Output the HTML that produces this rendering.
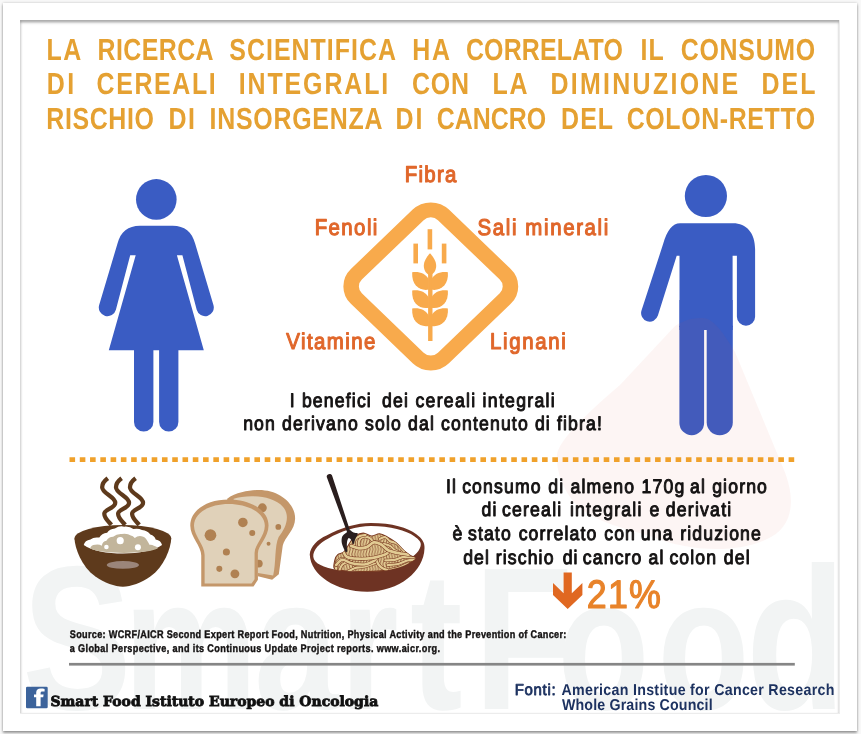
<!DOCTYPE html>
<html lang="it">
<head>
<meta charset="utf-8">
<title>Cereali integrali e cancro del colon-retto</title>
<style>
html,body{margin:0;padding:0;}
body{width:861px;height:734px;overflow:hidden;background:#f8f8f8;position:relative;font-family:"Liberation Sans",sans-serif;}
#panel{position:absolute;left:3px;top:3px;width:854px;height:727.5px;background:#fff;box-shadow:0 1.5px 2.5px rgba(0,0,0,.36),0 0 2.5px rgba(0,0,0,.2);}
#frame{position:absolute;left:20px;top:19.5px;width:820.3px;height:694.2px;background:#fff;box-shadow:inset 0 2.5px 2.5px rgba(0,0,0,.33),inset 2px 0 2px rgba(0,0,0,.055);border-right:1px solid #ececec;border-bottom:1px solid #ececec;box-sizing:border-box;}
svg{position:absolute;left:0;top:0;}
</style>
</head>
<body>
<div id="panel"></div>
<div id="frame"></div>
<svg text-rendering="geometricPrecision" width="861" height="734" viewBox="0 0 861 734">
<defs>
<clipPath id="fc"><rect x="21.5" y="22" width="818" height="691"/></clipPath>
</defs>
<!-- watermark -->
<g clip-path="url(#fc)">
<text transform="translate(0,709) scale(0.8,1)" font-family='"Liberation Sans", sans-serif' font-weight="bold" fill="#f2f4f4"><tspan x="27.8" font-size="205">S</tspan><tspan x="154.6" font-size="188">m</tspan><tspan x="317.8" font-size="188">a</tspan><tspan x="424.9" font-size="188">r</tspan><tspan x="512.5" font-size="197">t</tspan><tspan x="592.5" font-size="203">F</tspan><tspan x="697.0" font-size="188">o</tspan><tspan x="822.0" font-size="188">o</tspan><tspan x="932.8" font-size="203">d</tspan></text>
</g>

<!-- woman -->
<g fill="#3A5CC3" stroke="none">
<circle cx="156.3" cy="199.4" r="20.3"/>
<path d="M139.9,225.8 L172.7,225.8 C184.5,225.8 192,232 195.1,243.5 L213.5,305.2 A8.7,8.7 0 0 1 196.7,309.8 L182.4,255.2 L176.9,255.2 L203.8,350.3 L108.8,350.3 L135.7,255.2 L130.2,255.2 L115.9,309.8 A8.7,8.7 0 0 1 99.1,305.2 L117.5,243.5 C120.6,232 128.1,225.8 139.9,225.8 Z"/>
<path d="M134,345 L153.4,345 L153.4,421.9 A9.7,9.7 0 0 1 134,421.9 Z"/>
<path d="M159.1,345 L178.4,345 L178.4,421.9 A9.65,9.65 0 0 1 159.1,421.9 Z"/>
</g>

<!-- man -->
<g fill="#3A5CC3" stroke="none">
<circle cx="705.9" cy="196" r="21.1"/>
<path d="M680.1,223.3 L733,223.3 C746.5,223.3 755.1,233 755.1,249.2 L755.1,316.7 A9.1,9.1 0 0 1 736.9,316.7 L736.9,255.7 L732.6,255.7 L732.6,330 L679.5,330 L679.5,255.7 L676.7,255.7 L657.9,315.6 A8.6,8.6 0 0 1 641.5,310.4 L663.1,244.1 C667,230.5 672.5,223.3 680.1,223.3 Z"/>
<path d="M679.4,325.8 L704.1,325.8 L704.1,422.9 A12.35,12.35 0 0 1 679.4,422.9 Z"/>
<path d="M706.7,325.8 L732.8,325.8 L732.8,422.2 A13.05,13.05 0 0 1 706.7,422.2 Z"/>
<rect x="679.5" y="300" width="53.1" height="27"/>
</g>
<path d="M703,318 C712,318 722,330 735,352 L784,470 C796,500 794,528 765,540 C735,553 690,552 650,536 C620,527 585,520 570,497 C562,485 556,470 557,455 C559,440 585,415 620,385 L675,326 C688,318 695,318 703,318 Z" fill="rgb(225,80,60)" fill-opacity="0.06"/>

<!-- diamond + wheat -->
<g fill="#F8AA4C">
<rect x="-60.3" y="-60.3" width="120.6" height="120.6" rx="17.5" ry="17.5" transform="translate(430.8,286.4) scale(1.021,0.981) rotate(45)" fill="none" stroke="#F8AA4C" stroke-width="15.2"/>
<rect x="427.6" y="229.2" width="4.6" height="20.2"/>
<rect x="413.4" y="243.6" width="4.6" height="19.8"/>
<rect x="441.8" y="243.6" width="4.6" height="19.8"/>
<rect x="428.1" y="270" width="4.4" height="71"/>
<path d="M430,253.3 C433,256.5 436.2,261 436.2,265.8 C436.2,270.5 433.5,274.5 430,275.2 C426.5,274.5 423.8,270.5 423.8,265.8 C423.8,261 427,256.5 430,253.3 Z"/>
<g id="lp">
<path d="M412.2,272.3 C419,271.3 426,273.5 428.8,279.8 L428.8,289.6 C420,291.3 411.3,285.5 412.2,272.3 Z"/>
<path d="M447.9,272.3 C441.1,271.3 434.1,273.5 431.3,279.8 L431.3,289.6 C440.1,291.3 448.8,285.5 447.9,272.3 Z"/>
</g>
<use href="#lp" y="18.15"/>
<use href="#lp" y="36.3"/>
</g>

<!-- dotted rule -->
<line x1="69.5" y1="459.7" x2="794.4" y2="459.7" stroke="#F0A12B" stroke-width="4.8" stroke-dasharray="5.6 4.673"/>

<!-- rice bowl -->
<g transform="translate(60,465) scale(0.17711)">
<g fill="none" stroke="#5E3A1C" stroke-width="24">
<path id="stm" d="M270,75 C250,90 238,105 238,125 C238,160 312,178 312,213 C312,245 250,250 250,275 C250,300 275,320 290,338"/>
<use href="#stm" x="78"/>
<use href="#stm" x="157"/>
</g>
<ellipse cx="355" cy="415" rx="273" ry="76" fill="#5E3A1C"/>
<path d="M82,415 C84,470 120,572 200,630 C250,666 310,687 355,687 C400,687 460,666 510,630 C590,572 626,470 628,415 Z" fill="#5E3A1C"/>
<path d="M134,451 Q140,425 172,420 Q190,405 222,410 Q235,385 266,382 Q280,360 310,358 Q335,342 362,348 Q395,345 414,362 Q440,355 463,367 Q495,372 510,392 Q535,400 540,420 Q570,425 576,452 C490,516 220,516 134,451 Z" fill="#fff"/>
<path d="M170,472 Q175,450 198,450 Q220,445 236,456 Q240,430 262,428 Q275,405 300,405 Q320,388 348,390 Q380,385 400,398 Q412,400 422,412 Q440,398 460,402 Q482,405 490,424 Q500,440 505,450 Q520,448 530,456 Q548,460 552,472 C480,505 240,505 170,472 Z" fill="#C2B59B"/>
<circle cx="340" cy="427" r="20" fill="#fff"/>
<circle cx="262" cy="463" r="13" fill="#fff"/>
<circle cx="440" cy="465" r="17" fill="#fff"/>
<ellipse cx="355" cy="564" rx="91" ry="22" fill="#9B857A"/>
</g>

<!-- bread -->
<g transform="translate(180,475) scale(0.17711)">
<path d="M265,135 C320,95 400,85 445,85 C560,85 650,160 650,245 C650,310 590,350 580,400 L558,560 L520,592 L440,572 L440,420 Z" fill="#C4976A"/>
<path d="M300,135 C380,110 520,112 582,180 C625,232 597,300 557,350 C533,400 543,500 526,568 L440,553 L440,300 Z" fill="#E0D1B9"/>
<circle cx="465" cy="185" r="25" fill="#B08152"/>
<circle cx="555" cy="293" r="16" fill="#B08152"/>
<circle cx="500" cy="388" r="11" fill="#B08152"/>
<circle cx="445" cy="500" r="22" fill="#B08152"/>
<path d="M120,630 L120,455 C120,400 58,350 58,285 C58,200 150,138 275,138 C400,138 500,200 500,285 C500,350 440,400 440,440 L440,592 L415,630 Z" fill="#C4976A"/>
<path d="M139,613 L139,452 C139,395 79,345 79,287 C79,215 165,164 275,164 C385,164 479,215 479,287 C479,345 421,395 421,440 L421,588 L404,613 Z" fill="#E0D1B9"/>
<circle cx="172" cy="340" r="33" fill="#B08152"/>
<circle cx="355" cy="268" r="27" fill="#B08152"/>
<circle cx="408" cy="327" r="17" fill="#B08152"/>
<circle cx="262" cy="435" r="20" fill="#B08152"/>
<circle cx="222" cy="530" r="17" fill="#B08152"/>
<circle cx="310" cy="558" r="25" fill="#B08152"/>
</g>

<!-- pasta bowl -->
<g transform="translate(300,465) scale(0.17711)">
<path d="M55,505 C58,460 100,420 150,398 C230,355 320,328 400,328 C520,328 610,355 655,390 C690,415 705,440 703,470 C700,600 560,715 380,715 C200,715 60,620 55,505 Z" fill="#6E3323"/>
<path d="M75,518 C72,480 110,440 160,415 C230,375 320,345 400,345 C510,345 600,370 645,402 C672,420 684,436 682,450 C680,480 650,515 600,540 C540,572 460,598 400,600 C320,604 250,600 200,590 C140,578 78,560 75,518 Z" fill="#fff"/>
<defs><path id="pmd" d="M193.7,584.7 C186.6,574.6 193.7,548.6 196.9,535.5 C200.2,522.4 204.6,513.7 213.3,506.0 C222.1,498.4 237.9,501.1 249.4,489.6 C260.9,478.1 271.8,451.9 282.2,437.2 C292.6,422.4 299.1,409.8 311.7,401.1 C324.2,392.3 342.3,384.7 357.6,384.7 C372.9,384.7 388.2,400.5 403.5,401.1 C418.8,401.6 434.1,386.9 449.4,388.0 C464.7,389.1 480.0,399.5 495.3,407.6 C510.6,415.8 525.9,424.6 541.2,437.2 C556.5,449.7 572.9,470.5 587.1,483.1 C601.3,495.6 615.7,505.1 626.4,512.6 C637.1,520.0 655.7,519.4 651.3,527.6 C647.0,535.8 619.6,552.2 600.2,561.7 C580.7,571.2 558.7,578.7 534.6,584.7 C510.6,590.7 488.7,595.1 455.9,597.8 C423.2,600.5 374.0,601.4 337.9,601.1 C301.8,600.8 263.6,598.6 239.6,595.8 C215.5,593.1 200.8,594.7 193.7,584.7 Z"/><clipPath id="pm"><use href="#pmd"/></clipPath></defs>
<use href="#pmd" fill="#E2CB93" stroke="#7A3B22" stroke-width="6" stroke-linejoin="round"/>
<g clip-path="url(#pm)">
<pattern id="ht" width="16" height="56" patternUnits="userSpaceOnUse"><path d="M4,0 L12,28 L4,56" stroke="#7A3B22" stroke-width="4.2" fill="none"/></pattern>
<use href="#pmd" fill="url(#ht)"/>
<path d="M203.5,601.1 C204.0,593.4 201.9,567.2 206.8,555.2 C211.7,543.2 222.1,532.2 233.0,529.0 C243.9,525.7 265.8,534.4 272.3,535.5" stroke="#7A3B22" stroke-width="18" fill="none" stroke-linecap="round"/>
<path d="M203.5,601.1 C204.0,593.4 201.9,567.2 206.8,555.2 C211.7,543.2 222.1,532.2 233.0,529.0 C243.9,525.7 265.8,534.4 272.3,535.5" stroke="#E2CB93" stroke-width="12" fill="none" stroke-linecap="round"/>
<path d="M219.9,601.1 C223.2,594.5 229.7,570.5 239.6,561.7 C249.4,553.0 266.9,548.1 278.9,548.6 C290.9,549.2 306.2,562.3 311.7,565.0" stroke="#7A3B22" stroke-width="18" fill="none" stroke-linecap="round"/>
<path d="M219.9,601.1 C223.2,594.5 229.7,570.5 239.6,561.7 C249.4,553.0 266.9,548.1 278.9,548.6 C290.9,549.2 306.2,562.3 311.7,565.0" stroke="#E2CB93" stroke-width="12" fill="none" stroke-linecap="round"/>
<path d="M272.3,601.1 C278.9,597.8 296.4,585.8 311.7,581.4 C327.0,577.0 345.6,579.2 364.1,574.9 C382.7,570.5 413.3,558.5 423.2,555.2" stroke="#7A3B22" stroke-width="18" fill="none" stroke-linecap="round"/>
<path d="M272.3,601.1 C278.9,597.8 296.4,585.8 311.7,581.4 C327.0,577.0 345.6,579.2 364.1,574.9 C382.7,570.5 413.3,558.5 423.2,555.2" stroke="#E2CB93" stroke-width="12" fill="none" stroke-linecap="round"/>
<path d="M429.7,529.0 C431.9,534.4 436.3,552.4 442.8,561.7 C449.4,571.0 458.1,578.7 469.0,584.7 C480.0,590.7 501.8,595.6 508.4,597.8" stroke="#7A3B22" stroke-width="19" fill="none" stroke-linecap="round"/>
<path d="M429.7,529.0 C431.9,534.4 436.3,552.4 442.8,561.7 C449.4,571.0 458.1,578.7 469.0,584.7 C480.0,590.7 501.8,595.6 508.4,597.8" stroke="#E2CB93" stroke-width="13" fill="none" stroke-linecap="round"/>
<path d="M482.2,538.8 C490.9,538.2 517.1,538.8 534.6,535.5 C552.1,532.2 568.0,520.2 587.1,519.1 C606.2,518.0 639.0,527.3 649.4,529.0" stroke="#7A3B22" stroke-width="19" fill="none" stroke-linecap="round"/>
<path d="M482.2,538.8 C490.9,538.2 517.1,538.8 534.6,535.5 C552.1,532.2 568.0,520.2 587.1,519.1 C606.2,518.0 639.0,527.3 649.4,529.0" stroke="#E2CB93" stroke-width="13" fill="none" stroke-linecap="round"/>
<path d="M495.3,565.0 C505.1,563.9 535.7,562.8 554.3,558.5 C572.9,554.1 591.4,542.6 606.7,538.8 C622.0,535.0 639.5,536.1 646.1,535.5" stroke="#7A3B22" stroke-width="18" fill="none" stroke-linecap="round"/>
<path d="M495.3,565.0 C505.1,563.9 535.7,562.8 554.3,558.5 C572.9,554.1 591.4,542.6 606.7,538.8 C622.0,535.0 639.5,536.1 646.1,535.5" stroke="#E2CB93" stroke-width="12" fill="none" stroke-linecap="round"/>
<path d="M508.4,591.2 C517.1,589.1 543.4,584.1 560.8,578.1 C578.3,572.1 604.6,559.0 613.3,555.2" stroke="#7A3B22" stroke-width="17" fill="none" stroke-linecap="round"/>
<path d="M508.4,591.2 C517.1,589.1 543.4,584.1 560.8,578.1 C578.3,572.1 604.6,559.0 613.3,555.2" stroke="#E2CB93" stroke-width="11" fill="none" stroke-linecap="round"/>
<path d="M449.4,417.5 C454.8,415.8 472.3,405.5 482.2,407.6 C492.0,409.8 497.5,424.6 508.4,430.6 C519.3,436.6 534.6,434.4 547.7,443.7 C560.8,453.0 580.5,479.2 587.1,486.3" stroke="#7A3B22" stroke-width="18" fill="none" stroke-linecap="round"/>
<path d="M449.4,417.5 C454.8,415.8 472.3,405.5 482.2,407.6 C492.0,409.8 497.5,424.6 508.4,430.6 C519.3,436.6 534.6,434.4 547.7,443.7 C560.8,453.0 580.5,479.2 587.1,486.3" stroke="#E2CB93" stroke-width="12" fill="none" stroke-linecap="round"/>
<path d="M469.0,443.7 C475.6,445.9 497.5,450.8 508.4,456.8 C519.3,462.8 525.9,473.8 534.6,479.8 C543.4,485.8 556.5,490.7 560.8,492.9" stroke="#7A3B22" stroke-width="17" fill="none" stroke-linecap="round"/>
<path d="M469.0,443.7 C475.6,445.9 497.5,450.8 508.4,456.8 C519.3,462.8 525.9,473.8 534.6,479.8 C543.4,485.8 556.5,490.7 560.8,492.9" stroke="#E2CB93" stroke-width="11" fill="none" stroke-linecap="round"/>
<path d="M337.9,469.9 C336.8,464.5 329.2,447.5 331.4,437.2 C333.5,426.8 341.2,412.0 351.0,407.6 C360.9,403.3 379.4,406.0 390.4,410.9 C401.3,415.8 412.2,432.8 416.6,437.2" stroke="#7A3B22" stroke-width="18" fill="none" stroke-linecap="round"/>
<path d="M337.9,469.9 C336.8,464.5 329.2,447.5 331.4,437.2 C333.5,426.8 341.2,412.0 351.0,407.6 C360.9,403.3 379.4,406.0 390.4,410.9 C401.3,415.8 412.2,432.8 416.6,437.2" stroke="#E2CB93" stroke-width="12" fill="none" stroke-linecap="round"/>
<path d="M305.1,463.4 C305.7,456.8 302.9,434.4 308.4,424.0 C313.9,413.7 327.5,406.0 337.9,401.1 C348.3,396.2 365.2,395.6 370.7,394.5" stroke="#7A3B22" stroke-width="18" fill="none" stroke-linecap="round"/>
<path d="M305.1,463.4 C305.7,456.8 302.9,434.4 308.4,424.0 C313.9,413.7 327.5,406.0 337.9,401.1 C348.3,396.2 365.2,395.6 370.7,394.5" stroke="#E2CB93" stroke-width="12" fill="none" stroke-linecap="round"/>
<path d="M203.5,565.0 C209.5,560.1 224.8,537.1 239.6,535.5 C254.3,533.9 271.2,550.8 292.0,555.2 C312.8,559.6 343.4,563.9 364.1,561.7 C384.9,559.6 404.6,548.6 416.6,542.1 C428.6,535.5 433.0,525.7 436.3,522.4" stroke="#7A3B22" stroke-width="20" fill="none" stroke-linecap="round"/>
<path d="M203.5,565.0 C209.5,560.1 224.8,537.1 239.6,535.5 C254.3,533.9 271.2,550.8 292.0,555.2 C312.8,559.6 343.4,563.9 364.1,561.7 C384.9,559.6 404.6,548.6 416.6,542.1 C428.6,535.5 433.0,525.7 436.3,522.4" stroke="#E2CB93" stroke-width="14" fill="none" stroke-linecap="round"/>
<path d="M246.1,492.9 C249.4,497.3 252.7,513.1 265.8,519.1 C278.9,525.1 301.8,527.9 324.8,529.0 C347.7,530.0 379.4,529.0 403.5,525.7 C427.5,522.4 453.8,514.2 469.0,509.3 C484.3,504.4 490.9,498.4 495.3,496.2" stroke="#7A3B22" stroke-width="21" fill="none" stroke-linecap="round"/>
<path d="M246.1,492.9 C249.4,497.3 252.7,513.1 265.8,519.1 C278.9,525.1 301.8,527.9 324.8,529.0 C347.7,530.0 379.4,529.0 403.5,525.7 C427.5,522.4 453.8,514.2 469.0,509.3 C484.3,504.4 490.9,498.4 495.3,496.2" stroke="#E2CB93" stroke-width="15" fill="none" stroke-linecap="round"/>
<path d="M288.7,456.8 C295.8,459.0 316.6,468.8 331.4,469.9 C346.1,471.0 363.0,468.8 377.3,463.4 C391.5,457.9 403.5,439.9 416.6,437.2 C429.7,434.4 442.8,439.9 455.9,447.0 C469.0,454.1 480.0,471.6 495.3,479.8 C510.6,488.0 528.1,491.8 547.7,496.2 C567.4,500.5 602.4,504.4 613.3,506.0" stroke="#7A3B22" stroke-width="22" fill="none" stroke-linecap="round"/>
<path d="M288.7,456.8 C295.8,459.0 316.6,468.8 331.4,469.9 C346.1,471.0 363.0,468.8 377.3,463.4 C391.5,457.9 403.5,439.9 416.6,437.2 C429.7,434.4 442.8,439.9 455.9,447.0 C469.0,454.1 480.0,471.6 495.3,479.8 C510.6,488.0 528.1,491.8 547.7,496.2 C567.4,500.5 602.4,504.4 613.3,506.0" stroke="#E2CB93" stroke-width="16" fill="none" stroke-linecap="round"/>
</g>
<path d="M151,68 C148,50 177,44 182,62 L283,372 L266,380 Z" fill="#2A1E1E"/>
<path d="M236,412 C240,392 262,384 272,372 L286,368 C292,380 310,384 326,384 L323,398 C312,415 306,432 306,445 L297,446 C295,430 288,415 276,412 C264,418 262,452 268,488 L258,492 C246,470 230,442 236,412 Z" fill="#2A1E1E"/>
</g>

<!-- arrow -->
<polygon points="563.6,572.4 571.8,572.4 571.8,593.2 582.4,583 582.4,595 567.7,608.9 553,595 553,583 563.6,593.2" fill="#E06821"/>

<!-- rule -->
<rect x="69" y="662.9" width="725.8" height="2.7" fill="#868686"/>

<!-- facebook -->
<rect x="26" y="686.8" width="21.7" height="21.4" rx="1.3" fill="#3C639B"/>
<path d="M36.2,706.2 L36.2,697.3 L34,697.3 L34,694.5 L36.2,694.5 L36.2,692.6 C36.2,690 38,688.6 40.6,688.6 C42,688.6 43.6,688.7 44.6,688.9 L44.6,691.6 L42.6,691.6 C41,691.6 40.6,692.1 40.6,693.2 L40.6,694.5 L43.6,694.5 L43.2,697.3 L40.6,697.3 L40.6,706.2 Z" fill="#fff"/>

<text transform="translate(46.38,59.70) scale(0.8200,1)" font-family='"Liberation Sans", sans-serif' font-weight="bold" font-size="30.4" fill="#E5A132"  letter-spacing="1.938">LA</text>
<text transform="translate(97.58,59.70) scale(0.8200,1)" font-family='"Liberation Sans", sans-serif' font-weight="bold" font-size="30.4" fill="#E5A132"  letter-spacing="0.507">RICERCA</text>
<text transform="translate(229.25,59.70) scale(0.8200,1)" font-family='"Liberation Sans", sans-serif' font-weight="bold" font-size="30.4" fill="#E5A132"  letter-spacing="1.262">SCIENTIFICA</text>
<text transform="translate(412.28,59.70) scale(0.8200,1)" font-family='"Liberation Sans", sans-serif' font-weight="bold" font-size="30.4" fill="#E5A132"  letter-spacing="2.131">HA</text>
<text transform="translate(465.90,59.70) scale(0.8200,1)" font-family='"Liberation Sans", sans-serif' font-weight="bold" font-size="30.4" fill="#E5A132"  letter-spacing="0.235">CORRELATO</text>
<text transform="translate(640.48,59.70) scale(0.8200,1)" font-family='"Liberation Sans", sans-serif' font-weight="bold" font-size="30.4" fill="#E5A132"  letter-spacing="1.320">IL</text>
<text transform="translate(680.80,59.70) scale(0.8200,1)" font-family='"Liberation Sans", sans-serif' font-weight="bold" font-size="30.4" fill="#E5A132"  letter-spacing="0.868">CONSUMO</text>
<text transform="translate(46.78,93.80) scale(0.8200,1)" font-family='"Liberation Sans", sans-serif' font-weight="bold" font-size="30.4" fill="#E5A132"  letter-spacing="2.972">DI</text>
<text transform="translate(96.50,93.80) scale(0.8200,1)" font-family='"Liberation Sans", sans-serif' font-weight="bold" font-size="30.4" fill="#E5A132"  letter-spacing="1.994">CEREALI</text>
<text transform="translate(238.68,93.80) scale(0.8200,1)" font-family='"Liberation Sans", sans-serif' font-weight="bold" font-size="30.4" fill="#E5A132"  letter-spacing="2.333">INTEGRALI</text>
<text transform="translate(412.00,93.80) scale(0.8200,1)" font-family='"Liberation Sans", sans-serif' font-weight="bold" font-size="30.4" fill="#E5A132"  letter-spacing="0.962">CON</text>
<text transform="translate(492.48,93.80) scale(0.8200,1)" font-family='"Liberation Sans", sans-serif' font-weight="bold" font-size="30.4" fill="#E5A132"  letter-spacing="2.304">LA</text>
<text transform="translate(550.48,93.80) scale(0.8200,1)" font-family='"Liberation Sans", sans-serif' font-weight="bold" font-size="30.4" fill="#E5A132"  letter-spacing="2.807">DIMINUZIONE</text>
<text transform="translate(761.48,93.80) scale(0.8200,1)" font-family='"Liberation Sans", sans-serif' font-weight="bold" font-size="30.4" fill="#E5A132"  letter-spacing="2.507">DEL</text>
<text transform="translate(46.28,129.00) scale(0.8200,1)" font-family='"Liberation Sans", sans-serif' font-weight="bold" font-size="30.4" fill="#E5A132"  letter-spacing="0.771">RISCHIO</text>
<text transform="translate(168.38,129.00) scale(0.8200,1)" font-family='"Liberation Sans", sans-serif' font-weight="bold" font-size="30.4" fill="#E5A132"  letter-spacing="2.119">DI</text>
<text transform="translate(209.48,129.00) scale(0.8200,1)" font-family='"Liberation Sans", sans-serif' font-weight="bold" font-size="30.4" fill="#E5A132"  letter-spacing="0.921">INSORGENZA</text>
<text transform="translate(395.58,129.00) scale(0.8200,1)" font-family='"Liberation Sans", sans-serif' font-weight="bold" font-size="30.4" fill="#E5A132"  letter-spacing="2.241">DI</text>
<text transform="translate(436.80,129.00) scale(0.8200,1)" font-family='"Liberation Sans", sans-serif' font-weight="bold" font-size="30.4" fill="#E5A132"  letter-spacing="-0.028">CANCRO</text>
<text transform="translate(561.08,129.00) scale(0.8200,1)" font-family='"Liberation Sans", sans-serif' font-weight="bold" font-size="30.4" fill="#E5A132"  letter-spacing="1.288">DEL</text>
<text transform="translate(626.70,129.00) scale(0.8200,1)" font-family='"Liberation Sans", sans-serif' font-weight="bold" font-size="30.4" fill="#E5A132"  letter-spacing="0.765">COLON-RETTO</text>
<text transform="translate(404.73,182.40) scale(0.9000,1)" font-family='"Liberation Sans", sans-serif' font-weight="normal" font-size="22.7" fill="#E0672B"  stroke="#E0672B" stroke-width="1.14" stroke-linejoin="round" letter-spacing="1.450">Fibra</text>
<text transform="translate(314.63,234.60) scale(0.9000,1)" font-family='"Liberation Sans", sans-serif' font-weight="normal" font-size="22.7" fill="#E0672B"  stroke="#E0672B" stroke-width="1.14" stroke-linejoin="round" letter-spacing="1.591">Fenoli</text>
<text transform="translate(477.45,234.60) scale(0.9000,1)" font-family='"Liberation Sans", sans-serif' font-weight="normal" font-size="22.7" fill="#E0672B"  stroke="#E0672B" stroke-width="1.14" stroke-linejoin="round" letter-spacing="1.821">Sali minerali</text>
<text transform="translate(286.27,348.60) scale(0.9000,1)" font-family='"Liberation Sans", sans-serif' font-weight="normal" font-size="22.7" fill="#E0672B"  stroke="#E0672B" stroke-width="1.14" stroke-linejoin="round" letter-spacing="1.591">Vitamine</text>
<text transform="translate(490.03,348.60) scale(0.9000,1)" font-family='"Liberation Sans", sans-serif' font-weight="normal" font-size="22.7" fill="#E0672B"  stroke="#E0672B" stroke-width="1.14" stroke-linejoin="round" letter-spacing="1.822">Lignani</text>
<text transform="translate(289.80,406.70) scale(0.9000,1)" font-family='"Liberation Sans", sans-serif' font-weight="normal" font-size="19.6" fill="#141212"  stroke="#141212" stroke-width="0.98" stroke-linejoin="round" letter-spacing="1.283">I benefici</text>
<text transform="translate(381.88,406.70) scale(0.9000,1)" font-family='"Liberation Sans", sans-serif' font-weight="normal" font-size="19.6" fill="#141212"  stroke="#141212" stroke-width="0.98" stroke-linejoin="round" letter-spacing="1.430">dei cereali integrali</text>
<text transform="translate(243.14,429.60) scale(0.9000,1)" font-family='"Liberation Sans", sans-serif' font-weight="normal" font-size="19.6" fill="#141212"  stroke="#141212" stroke-width="0.98" stroke-linejoin="round" letter-spacing="1.280">non derivano solo dal contenuto di fibra!</text>
<text transform="translate(445.89,492.50) scale(0.9000,1)" font-family='"Liberation Sans", sans-serif' font-weight="normal" font-size="19.6" fill="#141212" stroke="#141212" stroke-width="0.98" stroke-linejoin="round" letter-spacing="1.279">Il</text>
<text transform="translate(462.13,492.50) scale(0.9000,1)" font-family='"Liberation Sans", sans-serif' font-weight="normal" font-size="19.6" fill="#141212" stroke="#141212" stroke-width="0.98" stroke-linejoin="round" letter-spacing="1.279">consumo</text>
<text transform="translate(548.36,492.50) scale(0.9000,1)" font-family='"Liberation Sans", sans-serif' font-weight="normal" font-size="19.6" fill="#141212" stroke="#141212" stroke-width="0.98" stroke-linejoin="round" letter-spacing="1.279">di</text>
<text transform="translate(570.44,492.50) scale(0.9000,1)" font-family='"Liberation Sans", sans-serif' font-weight="normal" font-size="19.6" fill="#141212" stroke="#141212" stroke-width="0.98" stroke-linejoin="round" letter-spacing="1.279">almeno</text>
<text transform="translate(641.51,492.50) scale(0.9000,1)" font-family='"Liberation Sans", sans-serif' font-weight="normal" font-size="19.6" fill="#141212" stroke="#141212" stroke-width="0.98" stroke-linejoin="round" letter-spacing="1.279">170g</text>
<text transform="translate(690.11,492.50) scale(0.9000,1)" font-family='"Liberation Sans", sans-serif' font-weight="normal" font-size="19.6" fill="#141212" stroke="#141212" stroke-width="0.98" stroke-linejoin="round" letter-spacing="1.279">al</text>
<text transform="translate(712.15,492.50) scale(0.9000,1)" font-family='"Liberation Sans", sans-serif' font-weight="normal" font-size="19.6" fill="#141212" stroke="#141212" stroke-width="0.98" stroke-linejoin="round" letter-spacing="1.279">giorno</text>
<text transform="translate(481.53,515.80) scale(0.9000,1)" font-family='"Liberation Sans", sans-serif' font-weight="normal" font-size="19.6" fill="#141212" stroke="#141212" stroke-width="0.98" stroke-linejoin="round" letter-spacing="1.351">di</text>
<text transform="translate(501.95,515.80) scale(0.9000,1)" font-family='"Liberation Sans", sans-serif' font-weight="normal" font-size="19.6" fill="#141212" stroke="#141212" stroke-width="0.98" stroke-linejoin="round" letter-spacing="1.351">cereali</text>
<text transform="translate(569.92,515.80) scale(0.9000,1)" font-family='"Liberation Sans", sans-serif' font-weight="normal" font-size="19.6" fill="#141212" stroke="#141212" stroke-width="0.98" stroke-linejoin="round" letter-spacing="1.351">integrali</text>
<text transform="translate(649.55,515.80) scale(0.9000,1)" font-family='"Liberation Sans", sans-serif' font-weight="normal" font-size="19.6" fill="#141212" stroke="#141212" stroke-width="0.98" stroke-linejoin="round" letter-spacing="1.351">e</text>
<text transform="translate(665.82,515.80) scale(0.9000,1)" font-family='"Liberation Sans", sans-serif' font-weight="normal" font-size="19.6" fill="#141212" stroke="#141212" stroke-width="0.98" stroke-linejoin="round" letter-spacing="1.351">derivati</text>
<text transform="translate(452.50,540.20) scale(0.9000,1)" font-family='"Liberation Sans", sans-serif' font-weight="normal" font-size="19.6" fill="#141212" stroke="#141212" stroke-width="0.98" stroke-linejoin="round" letter-spacing="1.259">è</text>
<text transform="translate(467.93,540.20) scale(0.9000,1)" font-family='"Liberation Sans", sans-serif' font-weight="normal" font-size="19.6" fill="#141212" stroke="#141212" stroke-width="0.98" stroke-linejoin="round" letter-spacing="1.259">stato</text>
<text transform="translate(518.66,540.20) scale(0.9000,1)" font-family='"Liberation Sans", sans-serif' font-weight="normal" font-size="19.6" fill="#141212" stroke="#141212" stroke-width="0.98" stroke-linejoin="round" letter-spacing="1.259">correlato</text>
<text transform="translate(604.19,540.20) scale(0.9000,1)" font-family='"Liberation Sans", sans-serif' font-weight="normal" font-size="19.6" fill="#141212" stroke="#141212" stroke-width="0.98" stroke-linejoin="round" letter-spacing="1.259">con</text>
<text transform="translate(640.76,540.20) scale(0.9000,1)" font-family='"Liberation Sans", sans-serif' font-weight="normal" font-size="19.6" fill="#141212" stroke="#141212" stroke-width="0.98" stroke-linejoin="round" letter-spacing="1.259">una</text>
<text transform="translate(680.23,540.20) scale(0.9000,1)" font-family='"Liberation Sans", sans-serif' font-weight="normal" font-size="19.6" fill="#141212" stroke="#141212" stroke-width="0.98" stroke-linejoin="round" letter-spacing="1.259">riduzione</text>
<text transform="translate(463.16,564.30) scale(0.9000,1)" font-family='"Liberation Sans", sans-serif' font-weight="normal" font-size="19.6" fill="#141212" stroke="#141212" stroke-width="0.98" stroke-linejoin="round" letter-spacing="1.250">del</text>
<text transform="translate(495.76,564.30) scale(0.9000,1)" font-family='"Liberation Sans", sans-serif' font-weight="normal" font-size="19.6" fill="#141212" stroke="#141212" stroke-width="0.98" stroke-linejoin="round" letter-spacing="1.250">rischio</text>
<text transform="translate(562.67,564.30) scale(0.9000,1)" font-family='"Liberation Sans", sans-serif' font-weight="normal" font-size="19.6" fill="#141212" stroke="#141212" stroke-width="0.98" stroke-linejoin="round" letter-spacing="1.250">di</text>
<text transform="translate(582.83,564.30) scale(0.9000,1)" font-family='"Liberation Sans", sans-serif' font-weight="normal" font-size="19.6" fill="#141212" stroke="#141212" stroke-width="0.98" stroke-linejoin="round" letter-spacing="1.250">cancro</text>
<text transform="translate(648.57,564.30) scale(0.9000,1)" font-family='"Liberation Sans", sans-serif' font-weight="normal" font-size="19.6" fill="#141212" stroke="#141212" stroke-width="0.98" stroke-linejoin="round" letter-spacing="1.250">al</text>
<text transform="translate(669.39,564.30) scale(0.9000,1)" font-family='"Liberation Sans", sans-serif' font-weight="normal" font-size="19.6" fill="#141212" stroke="#141212" stroke-width="0.98" stroke-linejoin="round" letter-spacing="1.250">colon</text>
<text transform="translate(723.81,564.30) scale(0.9000,1)" font-family='"Liberation Sans", sans-serif' font-weight="normal" font-size="19.6" fill="#141212" stroke="#141212" stroke-width="0.98" stroke-linejoin="round" letter-spacing="1.250">del</text>
<text transform="translate(586.81,607.90) scale(0.9000,1)" font-family='"Liberation Sans", sans-serif' font-weight="normal" font-size="39.8" fill="#E8832A"  stroke="#E8832A" stroke-width="1.20" stroke-linejoin="round" letter-spacing="1.280">21%</text>
<text transform="translate(69.73,638.10) scale(0.8300,1)" font-family='"Liberation Sans", sans-serif' font-weight="bold" font-size="11.0" fill="#141212" stroke="#141212" stroke-width="0.4" letter-spacing="0.376">Source: WCRF/AICR Second Expert Report Food, Nutrition, Physical Activity and the Prevention of Cancer:</text>
<text transform="translate(69.73,652.30) scale(0.8300,1)" font-family='"Liberation Sans", sans-serif' font-weight="bold" font-size="11.0" fill="#141212" stroke="#141212" stroke-width="0.4" letter-spacing="0.433">a Global Perspective, and its Continuous Update Project reports. www.aicr.org.</text>
<text transform="translate(514.69,695.40) scale(0.9500,1)" font-family='"Liberation Sans", sans-serif' font-weight="normal" font-size="15.8" fill="#1D3260"  stroke="#1D3260" stroke-width="0.79" stroke-linejoin="round" letter-spacing="0.702">Fonti:</text>
<text transform="translate(561.54,695.00) scale(0.9000,1)" font-family='"Liberation Sans", sans-serif' font-weight="bold" font-size="15.8" fill="#1D3260"  letter-spacing="0.326">American Institue for Cancer Research</text>
<text transform="translate(561.90,709.70) scale(0.9000,1)" font-family='"Liberation Sans", sans-serif' font-weight="bold" font-size="15.8" fill="#1D3260"  letter-spacing="0.178">Whole Grains Council</text>
<text transform="translate(50.49,706.40) scale(1.0131,1)" font-family='"DejaVu Serif", "Liberation Serif", serif' font-weight="bold" font-size="13.8" fill="#111" stroke="#111" stroke-width="0.8">Smart Food Istituto Europeo di Oncologia</text>
</svg>
</body>
</html>
